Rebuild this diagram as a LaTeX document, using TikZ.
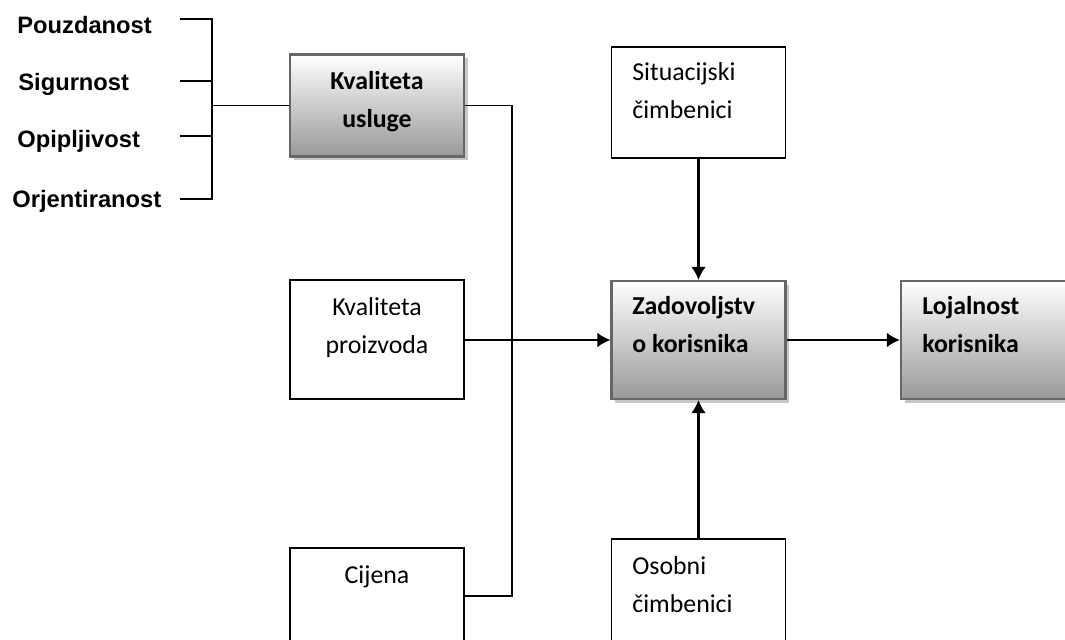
\documentclass[tikz,border=0pt]{standalone}
\usepackage{fontspec}
\setmainfont{Carlito}
\newfontfamily\lblfont{Liberation Sans}
\usetikzlibrary{arrows.meta,shadows}
\begin{document}
\begin{tikzpicture}[>={Latex[length=7.5pt,width=8.5pt]},x=0.02cm,y=-0.02cm,
  wbox/.style={rectangle,draw=black,line width=0.8pt,fill=white,minimum width=3.48cm},
  gbox/.style={rectangle,draw=black!60,line width=1.2pt,top color=white,bottom color=black!40,
    minimum width=3.48cm,drop shadow={shadow xshift=2pt,shadow yshift=-2pt,fill=black!22,opacity=1}},
  txt/.style={inner sep=0pt,align=left,font=\fontsize{14.7}{21.5}\selectfont},
  lbl/.style={inner sep=0pt,anchor=base west,font=\lblfont\bfseries\fontsize{13.5}{16}\selectfont},
  ln/.style={line width=0.9pt},
  arr/.style={->,line width=1.3pt}]
\useasboundingbox (0,0) rectangle (1065,639);
\clip (0,0) rectangle (1065,639);

\node (ku) at (377,105.5)[gbox,minimum height=2.04cm]{};
\node (kp) at (377,339.5)[wbox,minimum height=2.38cm]{};
\node (cij) at (377,607.5)[wbox,minimum height=2.38cm]{};
\node (sc) at (698.5,102.5)[wbox,minimum height=2.22cm]{};
\node (zk) at (698.5,340)[gbox,minimum height=2.36cm]{};
\node (os) at (698.5,598)[wbox,minimum height=2.36cm]{};
\node (lk) at (988,340)[gbox,minimum height=2.36cm]{};

% base anchor = last line
\node (kut) at (377,127)[txt,anchor=base,align=center,font=\bfseries\fontsize{14.7}{21.5}\selectfont]{Kvaliteta\\usluge};
\node (kpt) at (377,353)[txt,anchor=base,align=center]{Kvaliteta\\proizvoda};
\node (cijt) at (377,583)[txt,anchor=base]{Cijena};
\node (sct) at (632,118)[txt,anchor=base west]{Situacijski\\čimbenici};
\node (zkt) at (632,352)[txt,anchor=base west,font=\bfseries\fontsize{14.7}{21.5}\selectfont]{Zadovoljstv\\o korisnika};
\node (ost) at (632,612)[txt,anchor=base west]{Osobni\\čimbenici};
\node (lkt) at (922,352)[txt,anchor=base west,font=\bfseries\fontsize{14.7}{21.5}\selectfont]{Lojalnost\\korisnika};

\node (pz) at (17,33)[lbl]{Pouzdanost};
\node (sg) at (18,90)[lbl]{Sigurnost};
\node (op) at (17,147)[lbl]{Opipljivost};
\node (oj) at (12,207)[lbl]{Orjentiranost};

\coordinate (b1) at (180,19);
\coordinate (b2) at (180,81);
\coordinate (b3) at (180,136);
\coordinate (b4) at (180,199);
\coordinate (v1) at (212,19);
\coordinate (v4) at (212,199);
\coordinate (cb) at (512,596);
\coordinate (xc) at (512,340);

\draw[ln](b1)--(v1)--(v4)--(b4);
\draw[ln](b2)--(b2-|v1);
\draw[ln](b3)--(b3-|v1);
\draw[ln](v1|-ku.west)--(ku.west);
\draw[ln](ku.east)-|(cb)--(cb-|cij.east);
\draw[ln](kp.east|-xc)--(xc);
\draw[arr](xc)--(zk);
\draw[arr](sc)--(zk);
\draw[arr](os)--(zk);
\draw[arr](zk)--(lk);
\end{tikzpicture}
\end{document}
